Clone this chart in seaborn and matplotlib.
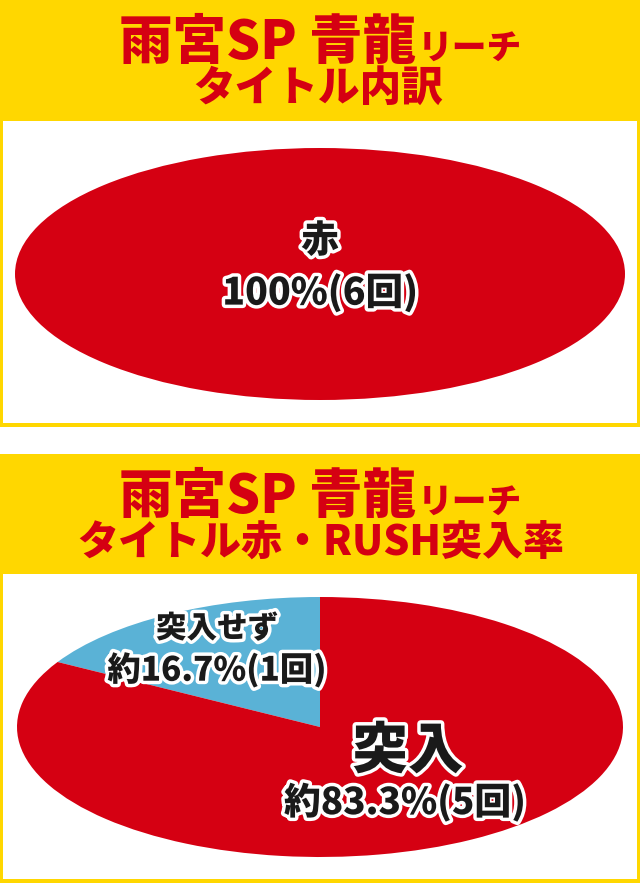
import matplotlib
matplotlib.use("Agg")
import matplotlib.pyplot as plt
import matplotlib.patches as mpatches
import matplotlib.patheffects as pe
import seaborn as sns

# Datos
titulo1_a = "雨宮SP 青龍"
titulo1_b = "リーチ"
titulo1_c = "タイトル内訳"
titulo2_c = "タイトル赤・RUSH突入率"

top_labels = ["赤"]
top_counts = [6]

bottom_labels = ["突入せず", "突入"]
bottom_counts = [1, 5]

# Colores
COR_AMARELO = "#FFD700"
COR_VERMELHO = "#D50012"
COR_AZUL = "#5AB2D6"

sns.set_theme(style="white")
plt.rcParams["font.family"] = ["Noto Sans CJK JP", "DejaVu Sans"]

W, H = 640, 883
fig = plt.figure(figsize=(W / 100, H / 100), dpi=100)
fig.patch.set_facecolor("white")


def px_rect(x0, y0, x1, y1, color):
    """Rectángulo en píxeles (origen arriba a la izquierda)."""
    fig.patches.append(mpatches.Rectangle(
        (x0 / W, 1 - y1 / H), (x1 - x0) / W, (y1 - y0) / H,
        transform=fig.transFigure, color=color, lw=0, zorder=-5))


def px_axes(x0, y0, x1, y1):
    ax = fig.add_axes([x0 / W, 1 - y1 / H, (x1 - x0) / W, (y1 - y0) / H])
    ax.set_zorder(2)
    ax.patch.set_alpha(0)
    return ax


def ftext(x, y, s, size, **kw):
    fig.text(x / W, 1 - y / H, s, fontsize=size, color=COR_VERMELHO,
             fontweight="heavy", **kw)


# Fondos
px_rect(0, 0, 640, 427, COR_AMARELO)
px_rect(3, 121, 637, 423, "white")
px_rect(0, 454, 640, 883, COR_AMARELO)
px_rect(3, 574, 637, 879, "white")

# Títulos
for dy in (0, 454):
    ftext(416, 59 + dy, titulo1_a, 38.5, ha="right", va="baseline")
    ftext(418, 59 + dy, titulo1_b, 25, ha="left", va="baseline")
ftext(318, 89, titulo1_c, 30, ha="center", va="center")
ftext(321, 544, titulo2_c, 29.5, ha="center", va="center")

stroke = [pe.withStroke(linewidth=5, foreground="white")]


def rotulo(ax, x, y, s, size):
    ax.text(x, y, s, fontsize=size, fontweight="heavy", color="#1a1a1a",
            ha="center", va="center", path_effects=stroke, zorder=5)


# Pizza superior
ax1 = px_axes(15, 148, 625, 400)
ax1.pie(top_counts, colors=[COR_VERMELHO], startangle=90,
        wedgeprops=dict(linewidth=0))
ax1.set_aspect("auto")
ax1.set_xlim(-1, 1)
ax1.set_ylim(-1, 1)
ax1.axis("off")
tot = sum(top_counts)
rotulo(ax1, 0, 0.26, top_labels[0], 27)
rotulo(ax1, 0, -0.15, f"{top_counts[0] / tot:.0%}({top_counts[0]}回)", 27)

# Pizza inferior
ax2 = px_axes(17, 597, 623, 857)
ax2.pie(bottom_counts, colors=[COR_AZUL, COR_VERMELHO], startangle=90,
        counterclock=True, wedgeprops=dict(linewidth=0))
ax2.set_aspect("auto")
ax2.set_xlim(-1, 1)
ax2.set_ylim(-1, 1)
ax2.axis("off")
tot = sum(bottom_counts)
p0 = bottom_counts[0] / tot * 100
p1 = bottom_counts[1] / tot * 100
rotulo(ax2, -0.34, 0.76, bottom_labels[0], 22)
rotulo(ax2, -0.34, 0.44, f"約{p0:.1f}%({bottom_counts[0]}回)", 24)
rotulo(ax2, 0.29, -0.19, bottom_labels[1], 40)
rotulo(ax2, 0.28, -0.58, f"約{p1:.1f}%({bottom_counts[1]}回)", 26.5)

fig.savefig("out.png", dpi=100)
plt.close()
